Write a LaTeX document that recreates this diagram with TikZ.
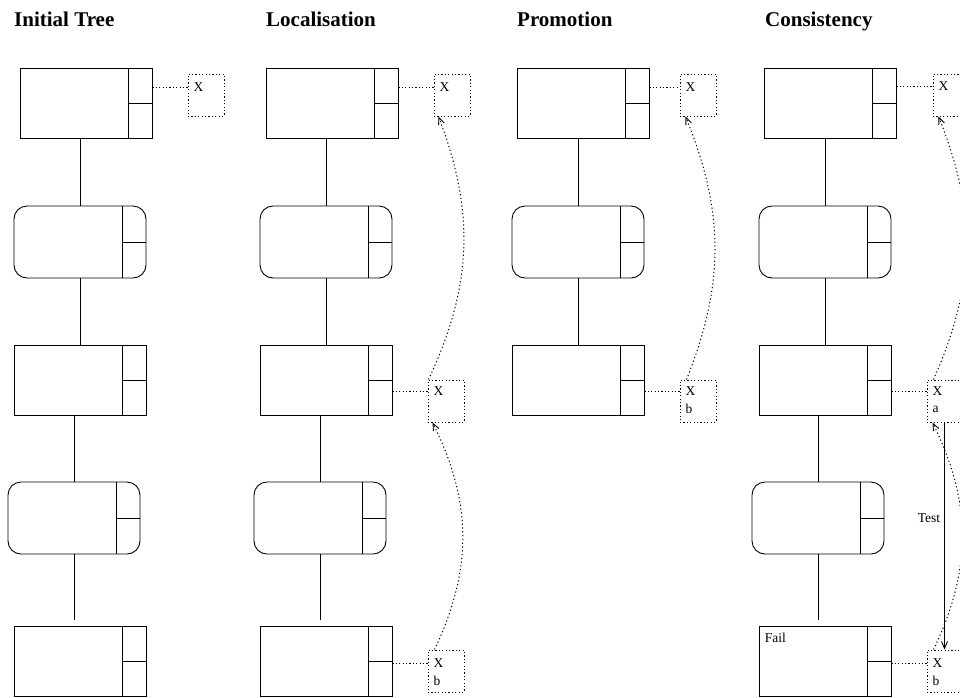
\documentclass[tikz,border=0pt]{standalone}
\usepackage{fontspec}
\setmainfont{Liberation Serif}
\usetikzlibrary{arrows.meta}

\tikzset{
  treebox/.style={draw, line width=0.9pt, minimum width=132pt, minimum height=70pt,
    inner sep=0pt,
    path picture={
      \draw[line width=0.9pt]
        ([xshift=-24pt]path picture bounding box.north east) --
        ([xshift=-24pt]path picture bounding box.south east)
        ([xshift=-24pt]path picture bounding box.east) --
        (path picture bounding box.east);
    }},
  roundbox/.style={treebox, minimum height=72pt, rounded corners=13pt},
  xbox/.style={draw, dash pattern=on 1.2pt off 2.2pt, line width=1pt,
    minimum width=36pt, minimum height=42pt, inner sep=0pt},
  letter/.style={inner sep=0pt, anchor=west, font=\fontsize{13.5}{15}\selectfont},
  title/.style={anchor=base west, inner sep=0pt, font=\fontsize{21}{24}\selectfont\bfseries},
  link/.style={dash pattern=on 1.2pt off 2.2pt, line width=1pt},
  edge/.style={line width=0.9pt},
  dotarrow/.style={dash pattern=on 1.2pt off 2.6pt, line width=1pt,
    -{Straight Barb[length=7pt,width=6pt,line width=0.9pt]}},
  testarrow/.style={line width=0.9pt,
    -{Straight Barb[length=7pt,width=6pt,line width=0.9pt]}},
}

\begin{document}
\begin{tikzpicture}[x=1pt, y=-1pt]
\clip (0,0) rectangle (960,697);

% column headings
\node[title] (t1) at (14,26)  {Initial Tree};
\node[title] (t2) at (266,26) {Localisation};
\node[title] (t3) at (517,26) {Promotion};
\node[title] (t4) at (765,26) {Consistency};

% ---------- Initial Tree ----------
\node[treebox]  (A1) at (86,103) {};
\node[roundbox] (A2) at (80,242) {};
\node[treebox]  (A3) at (80,380) {};
\node[roundbox] (A4) at (74,518) {};
\node[treebox]  (A5) at (80,661) {};
\draw[edge] (A2.north |- A1.south) -- (A2.north);
\draw[edge] (A2.south) -- (A2.south |- A3.north);
\draw[edge] (A4.north |- A3.south) -- (A4.north);
\draw[edge, shorten >=6pt] (A4.south) -- (A4.south |- A5.north);

\node[xbox] (XA1) at (206,95) {};
\node[letter] (xA1) at ([xshift=6pt,yshift=-14pt]XA1.north west) {X};
\draw[link] (A1.east |- xA1) -- (XA1.west |- xA1);

% ---------- Localisation ----------
\node[treebox]  (B1) at (332,103) {};
\node[roundbox] (B2) at (326,242) {};
\node[treebox]  (B3) at (326,380) {};
\node[roundbox] (B4) at (320,518) {};
\node[treebox]  (B5) at (326,661) {};
\draw[edge] (B2.north |- B1.south) -- (B2.north);
\draw[edge] (B2.south) -- (B2.south |- B3.north);
\draw[edge] (B4.north |- B3.south) -- (B4.north);
\draw[edge, shorten >=6pt] (B4.south) -- (B4.south |- B5.north);

\node[xbox] (XB1) at (452,95) {};
\node[letter] (xB1) at ([xshift=6pt,yshift=-14pt]XB1.north west) {X};
\draw[link] (B1.east |- xB1) -- (XB1.west |- xB1);

\node[xbox] (XB3) at (446,401) {};
\node[letter] (xB3) at ([xshift=6pt,yshift=-12pt]XB3.north west) {X};
\draw[link] (B3.east |- xB3) -- (XB3.west |- xB3);

\node[xbox] (XB5) at (446,671) {};
\node[letter] (xB5) at ([xshift=6pt,yshift=-14pt]XB5.north west) {X};
\node[letter] (bB5) at ([xshift=6pt,yshift=-31pt]XB5.north west) {b};
\draw[link] (B5.east |- xB5) -- (XB5.west |- xB5);

\draw[dotarrow] ([xshift=7pt]XB5.north west) to[bend right=26] ([xshift=5pt]XB3.south west);
\draw[dotarrow] ([xshift=1pt]XB3.north west) to[bend right=23] ([xshift=5pt]XB1.south west);

% ---------- Promotion ----------
\node[treebox]  (C1) at (583,103) {};
\node[roundbox] (C2) at (578,242) {};
\node[treebox]  (C3) at (578,380) {};
\draw[edge] (C2.north |- C1.south) -- (C2.north);
\draw[edge] (C2.south) -- (C2.south |- C3.north);

\node[xbox] (XC1) at (698,95) {};
\node[letter] (xC1) at ([xshift=6pt,yshift=-14pt]XC1.north west) {X};
\draw[link] (C1.east |- xC1) -- (XC1.west |- xC1);

\node[xbox] (XC3) at (698,401) {};
\node[letter] (xC3) at ([xshift=6pt,yshift=-12pt]XC3.north west) {X};
\node[letter] (bC3) at ([xshift=6pt,yshift=-29pt]XC3.north west) {b};
\draw[link] (C3.east |- xC3) -- (XC3.west |- xC3);

\draw[dotarrow] ([xshift=7pt]XC3.north west) to[bend right=22] ([xshift=6pt]XC1.south west);

% ---------- Consistency ----------
\node[treebox]  (D1) at (830,103) {};
\node[roundbox] (D2) at (825,242) {};
\node[treebox]  (D3) at (825,380) {};
\node[roundbox] (D4) at (818,518) {};
\node[treebox]  (D5) at (825,661) {};
\draw[edge] (D2.north |- D1.south) -- (D2.north);
\draw[edge] (D2.south) -- (D2.south |- D3.north);
\draw[edge] (D4.north |- D3.south) -- (D4.north);
\draw[edge, shorten >=6pt] (D4.south) -- (D4.south |- D5.north);
\node[letter] (fail) at ([xshift=6pt,yshift=-12pt]D5.north west) {Fail};

\node[xbox] (XD1) at (951,95) {};
\node[letter] (xD1) at ([xshift=6pt,yshift=-13pt]XD1.north west) {X};
\draw[link] (D1.east |- xD1) -- (XD1.west |- xD1);

\node[xbox] (XD3) at (945,401) {};
\node[letter] (xD3) at ([xshift=6pt,yshift=-12pt]XD3.north west) {X};
\node[letter] (aD3) at ([xshift=6pt,yshift=-30pt]XD3.north west) {a};
\draw[link] (D3.east |- xD3) -- (XD3.west |- xD3);

\node[xbox] (XD5) at (945,671) {};
\node[letter] (xD5) at ([xshift=6pt,yshift=-14pt]XD5.north west) {X};
\node[letter] (bD5) at ([xshift=6pt,yshift=-31pt]XD5.north west) {b};
\draw[link] (D5.east |- xD5) -- (XD5.west |- xD5);

\draw[dotarrow] ([xshift=7pt]XD5.north west) to[bend right=26] ([xshift=6pt]XD3.south west);
\draw[dotarrow] ([xshift=7pt]XD3.north west) to[bend right=23] ([xshift=6pt]XD1.south west);

\draw[testarrow] ([xshift=18pt]XD3.south west) --
  node[left, pos=0.42, inner sep=4pt, font=\fontsize{13.5}{15}\selectfont] (test) {Test}
  ([xshift=18pt]XD5.north west);
\end{tikzpicture}
\end{document}
